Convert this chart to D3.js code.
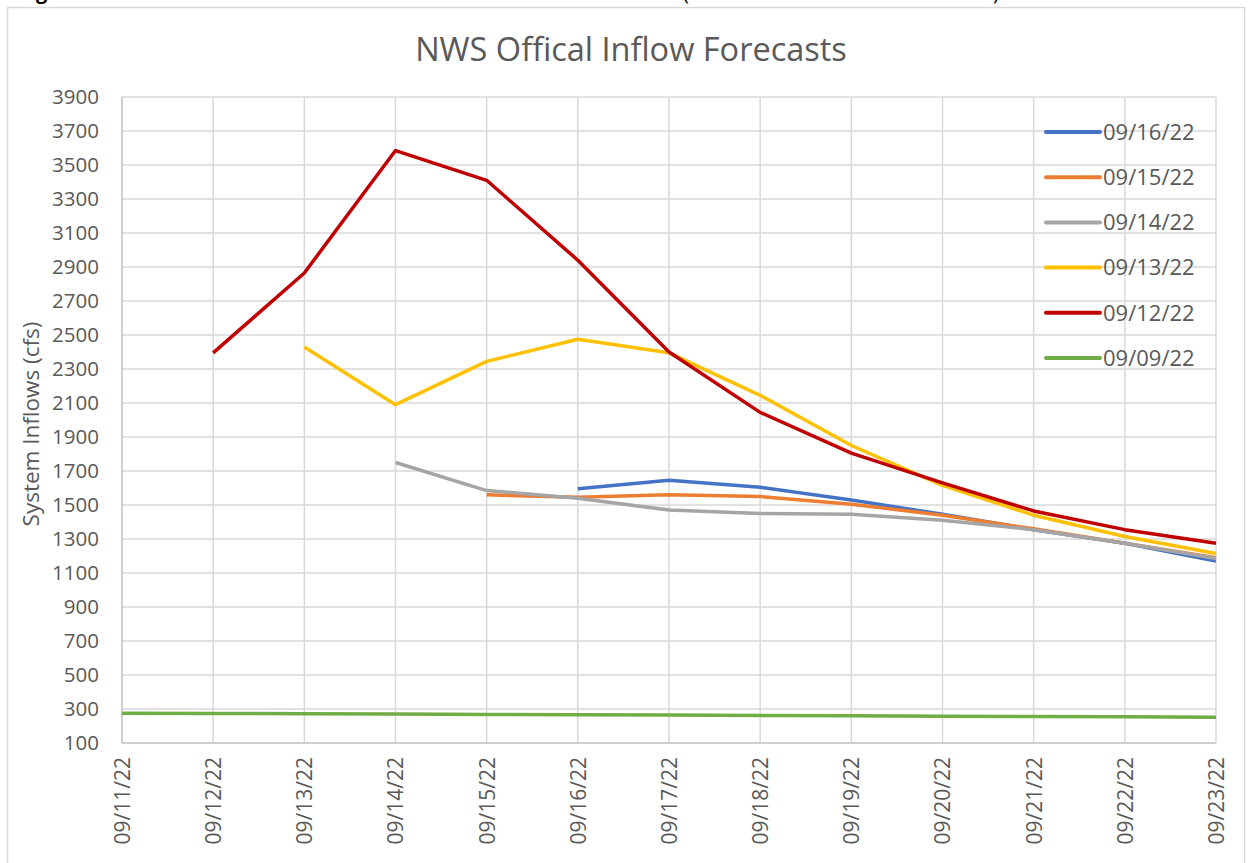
<!DOCTYPE html>
<html lang="en">
<head>
    <meta charset="UTF-8">
    <script src="https://cdn.jsdelivr.net/npm/d3@7"></script>
    <title>NWS Offical Inflow Forecasts</title>
    <style>
        body { margin: 0; background: #fff; }
        svg { display: block; }
        text { font-family: 'Open Sans', sans-serif; fill: #595959; }
    </style>
</head>
<body>
    <div id="chart"></div>
    <script>
        // categories on the x axis
        const dates = ["09/11/22", "09/12/22", "09/13/22", "09/14/22", "09/15/22", "09/16/22", "09/17/22",
            "09/18/22", "09/19/22", "09/20/22", "09/21/22", "09/22/22", "09/23/22"];

        // forecast issued on each date (null = no value)
        const fc0916 = [null, null, null, null, null, 1595, 1645, 1605, 1530, 1445, 1355, 1275, 1170];
        const fc0915 = [null, null, null, null, 1560, 1545, 1560, 1550, 1505, 1440, 1360, 1275, 1190];
        const fc0914 = [null, null, null, 1750, 1585, 1540, 1470, 1450, 1445, 1410, 1355, 1275, 1185];
        const fc0913 = [null, null, 2430, 2090, 2345, 2475, 2395, 2145, 1850, 1615, 1440, 1315, 1215];
        const fc0912 = [null, 2395, 2865, 3585, 3410, 2940, 2400, 2045, 1805, 1630, 1465, 1355, 1275];
        const fc0909 = [275, 274, 272, 270, 268, 266, 264, 262, 260, 258, 256, 254, 252];

        const seriesNames = ["09/16/22", "09/15/22", "09/14/22", "09/13/22", "09/12/22", "09/09/22"];
        const seriesValues = [fc0916, fc0915, fc0914, fc0913, fc0912, fc0909];
        const seriesColors = ["#4472C4", "#ED7D31", "#A5A5A5", "#FFC000", "#C00000", "#70AD47"];

        const yTicks = d3.range(100, 3901, 200);

        const W = 1250, H = 863;
        const margin = { left: 122, right: 34, top: 97, bottom: 120 };

        const svg = d3.select("#chart").append("svg")
            .attr("width", W)
            .attr("height", H);

        // cropped caption line from the page above the chart
        const cap = svg.append("g")
            .style("font-family", "'Liberation Serif', serif")
            .style("font-size", "20px");
        cap.append("text")
            .attr("x", 19).attr("y", -1)
            .style("font-weight", "bold")
            .style("fill", "#000")
            .text("Figure");
        cap.append("text")
            .attr("x", 683).attr("y", 0)
            .style("fill", "#000")
            .text("(");
        cap.append("text")
            .attr("x", 993).attr("y", 0)
            .style("fill", "#000")
            .text(")");

        // chart frame
        svg.append("rect")
            .attr("x", 7.5).attr("y", 7.5)
            .attr("width", 1237).attr("height", 870)
            .attr("fill", "none")
            .attr("stroke", "#d9d9d9")
            .attr("stroke-width", 1.5);

        const x = d3.scalePoint()
            .domain(dates)
            .range([margin.left, W - margin.right]);

        const y = d3.scaleLinear()
            .domain([100, 3900])
            .range([H - margin.bottom, margin.top]);

        // horizontal gridlines
        svg.append("g")
            .selectAll("line")
            .data(yTicks.filter(d => d > 100))
            .join("line")
            .attr("x1", margin.left).attr("x2", W - margin.right)
            .attr("y1", d => y(d)).attr("y2", d => y(d))
            .attr("stroke", "#d9d9d9")
            .attr("stroke-width", 1.5);

        // vertical gridlines
        svg.append("g")
            .selectAll("line")
            .data(dates.slice(1))
            .join("line")
            .attr("x1", d => x(d)).attr("x2", d => x(d))
            .attr("y1", margin.top).attr("y2", H - margin.bottom)
            .attr("stroke", "#d9d9d9")
            .attr("stroke-width", 1.5);

        // axis lines
        svg.append("line")
            .attr("x1", margin.left).attr("x2", W - margin.right)
            .attr("y1", y(100)).attr("y2", y(100))
            .attr("stroke", "#bfbfbf").attr("stroke-width", 1.5);
        svg.append("line")
            .attr("x1", margin.left).attr("x2", margin.left)
            .attr("y1", margin.top).attr("y2", y(100))
            .attr("stroke", "#bfbfbf").attr("stroke-width", 1.5);

        // y tick labels
        const yAxis = svg.append("g")
            .attr("transform", `translate(${margin.left - 1},0)`)
            .call(d3.axisLeft(y).tickValues(yTicks).tickFormat(d3.format("d")).tickSize(0).tickPadding(22));
        yAxis.select(".domain").remove();
        yAxis.selectAll("text")
            .style("font-family", "'Open Sans', sans-serif")
            .style("font-size", "20.5px")
            .attr("fill", "#595959");

        // x tick labels, rotated
        const xAxis = svg.append("g")
            .attr("transform", `translate(0,${y(100)})`)
            .call(d3.axisBottom(x).tickSize(0));
        xAxis.select(".domain").remove();
        xAxis.selectAll("text")
            .style("font-family", "'Open Sans', sans-serif")
            .style("font-size", "21px")
            .attr("fill", "#595959")
            .attr("text-anchor", "end")
            .attr("dy", "0.35em")
            .attr("transform", "translate(0,14) rotate(-90)")
            .attr("x", 0).attr("y", 0);

        // series lines
        const line = d3.line()
            .defined(d => d.v != null)
            .x(d => x(d.date))
            .y(d => y(d.v));

        seriesNames.forEach((name, i) => {
            const pts = dates.map((d, j) => ({ date: d, v: seriesValues[i][j] }));
            svg.append("path")
                .datum(pts)
                .attr("d", line)
                .attr("fill", "none")
                .attr("stroke", seriesColors[i])
                .attr("stroke-width", 3.5)
                .attr("stroke-linejoin", "round");
        });

        // legend
        const legend = svg.append("g")
            .attr("transform", "translate(1046,132)");
        seriesNames.forEach((name, i) => {
            const g = legend.append("g").attr("transform", `translate(0,${i * 45.2})`);
            g.append("line")
                .attr("x1", 0).attr("x2", 54)
                .attr("y1", 0).attr("y2", 0)
                .attr("stroke", seriesColors[i])
                .attr("stroke-width", 4)
                .attr("stroke-linecap", "round");
            g.append("text")
                .attr("x", 57).attr("y", 0)
                .attr("dy", "0.35em")
                .style("font-size", "22px")
                .text(name);
        });

        // title
        svg.append("text")
            .attr("x", 631).attr("y", 50)
            .attr("text-anchor", "middle")
            .attr("dy", "0.35em")
            .style("font-size", "32.5px")
            .text("NWS Offical Inflow Forecasts");

        // y axis title
        svg.append("text")
            .attr("transform", "translate(31,424) rotate(-90)")
            .attr("text-anchor", "middle")
            .attr("dy", "0.35em")
            .style("font-size", "22.5px")
            .text("System Inflows (cfs)");
    </script>
</body>
</html>
